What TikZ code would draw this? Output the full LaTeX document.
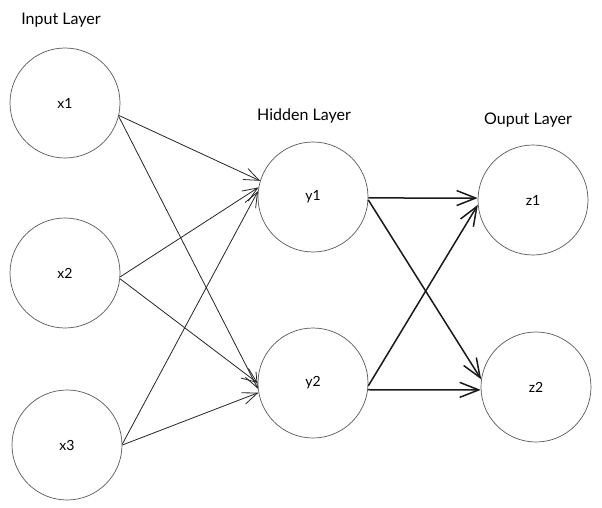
\documentclass[tikz,border=0pt]{standalone}
\usepackage{fontspec}
\setmainfont{Lato}
\usetikzlibrary{arrows.meta}
\begin{document}
\begin{tikzpicture}[x=1pt,y=-1pt,
  neuron/.style={circle,draw=black!65,line width=0.7pt,minimum size=110pt,inner sep=0pt,font=\fontsize{14}{16}\selectfont},
  layerlabel/.style={font=\fontsize{16}{19}\selectfont},
  thinlink/.style={draw=black!85,line width=0.8pt,-{Straight Barb[length=15pt,width=12pt,line width=0.8pt]}},
  thicklink/.style={draw=black!90,line width=1.5pt,-{Straight Barb[length=19pt,width=15pt,line width=1.5pt]}}]
\useasboundingbox[fill=white] (0,0) rectangle (602,508);

% layer captions
\node[layerlabel] (lin)  at (61,20)  {Input Layer};
\node[layerlabel] (lhid) at (304,116) {Hidden Layer};
\node[layerlabel] (lout) at (528,120) {Ouput Layer};

% input layer
\node[neuron] (x1) at (65,103) {x1};
\node[neuron] (x2) at (65,273) {x2};
\node[neuron] (x3) at (67,445) {x3};

% hidden layer
\node[neuron] (y1) at (313,197) {y1};
\node[neuron] (y2) at (313,383) {y2};

% output layer
\node[neuron] (z1) at (533,200) {z1};
\node[neuron] (z2) at (536,387) {z2};

% input -> hidden
\draw[thinlink] (x1.-13) -- (y1.163);
\draw[thinlink] (x1.-14) -- (y2.186);
\draw[thinlink] (x2.-4)  -- (y1.170);
\draw[thinlink] (x2.-6)  -- (y2.180);
\draw[thinlink] (x3.1)   -- (y1.174);
\draw[thinlink] (x3.0)   -- (y2.190);

% hidden -> output
\draw[thicklink] (y1.-1) -- (z1.178);
\draw[thicklink] (y1.-3) -- (z2.172);
\draw[thicklink] (y2.-3) -- (z1.185);
\draw[thicklink] (y2.-7) -- (z2.183);
\end{tikzpicture}
\end{document}
